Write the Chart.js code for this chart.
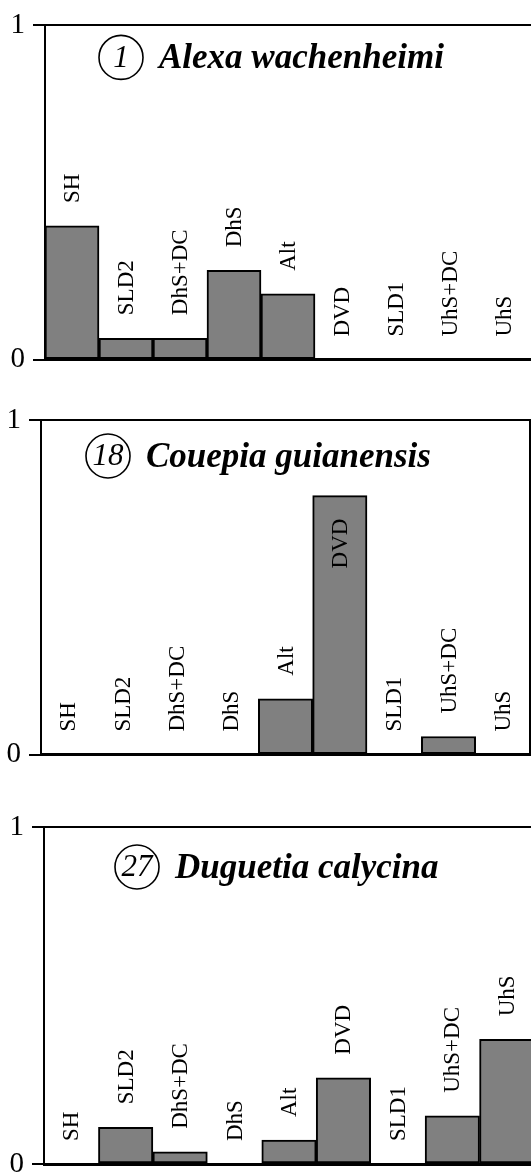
<!DOCTYPE html>
<html>
<head>
<meta charset="utf-8">
<script src="https://cdn.jsdelivr.net/npm/chart.js"></script>
<style>
  body { margin: 0; background: #fff; overflow: hidden; width: 531px; height: 1173px; position: relative; }
  canvas { position: absolute; left: 0; }
</style>
</head>
<body>
<canvas id="chart1" width="531" height="385" style="top:0px"></canvas>
<canvas id="chart2" width="531" height="390" style="top:390px"></canvas>
<canvas id="chart3" width="534" height="400" style="top:795px"></canvas>
<script>
// Data
const categories = ['SH', 'SLD2', 'DhS+DC', 'DhS', 'Alt', 'DVD', 'SLD1', 'UhS+DC', 'UhS'];
const yTicks = [0, 1];
const alexaValues = [0.40, 0.064, 0.064, 0.267, 0.197, 0, 0, 0, 0];
const couepiaValues = [0, 0, 0, 0, 0.167, 0.774, 0, 0.054, 0];
const duguetiaValues = [0, 0.109, 0.036, 0, 0.071, 0.256, 0, 0.143, 0.37];
const speciesNumbers = ['1', '18', '27'];
const speciesNames = ['Alexa wachenheimi', 'Couepia guianensis', 'Duguetia calycina'];

const serif = '"Liberation Serif", "Times New Roman", serif';

// Layout of each panel
const panels = [
  { id: 'chart1', values: alexaValues, pad: { top: 22, bottom: 23, right: 0 }, axisW: 45, rightFrame: false, cx: 121, cy: 32 },
  { id: 'chart2', values: couepiaValues, pad: { top: 30, bottom: 20, right: 1 }, axisW: 41, rightFrame: true, cx: 108, cy: 36 },
  { id: 'chart3', values: duguetiaValues, pad: { top: 32, bottom: 31, right: 0 }, axisW: 44, rightFrame: false, cx: 137, cy: 40 }
];

// Rotated category labels above (or inside, for tall bars) each bar
const barLabels = {
  id: 'barLabels',
  afterDatasetsDraw(chart) {
    const ctx = chart.ctx;
    const meta = chart.getDatasetMeta(0);
    const vals = chart.data.datasets[0].data;
    ctx.save();
    ctx.font = '23px ' + serif;
    ctx.fillStyle = '#000';
    ctx.textAlign = 'left';
    ctx.textBaseline = 'middle';
    meta.data.forEach((bar, i) => {
      const label = chart.data.labels[i];
      const w = ctx.measureText(label).width;
      const start = vals[i] > 0.6 ? bar.y + 23 + w : bar.y - 23;
      ctx.save();
      ctx.translate(bar.x + 1, start);
      ctx.rotate(-Math.PI / 2);
      ctx.fillText(label, 0, 0);
      ctx.restore();
    });
    ctx.restore();
  }
};

// Circled number and species name
const speciesTitle = {
  id: 'speciesTitle',
  afterDraw(chart, args, opts) {
    const ctx = chart.ctx;
    const top = chart.chartArea.top;
    const cx = opts.cx, cy = top + opts.cy;
    ctx.save();
    ctx.strokeStyle = '#000';
    ctx.lineWidth = 1.6;
    ctx.beginPath();
    ctx.arc(cx, cy, 22, 0, Math.PI * 2);
    ctx.stroke();
    ctx.fillStyle = '#000';
    ctx.font = 'italic 31px ' + serif;
    ctx.textAlign = 'center';
    ctx.textBaseline = 'middle';
    ctx.fillText(opts.num, cx, cy + 1);
    ctx.font = 'bold italic 35px ' + serif;
    ctx.textAlign = 'left';
    ctx.textBaseline = 'alphabetic';
    ctx.fillText(opts.name, cx + 38, cy + 11);
    ctx.restore();
  }
};

panels.forEach((p, k) => {
  const ctx = document.getElementById(p.id).getContext('2d');
  new Chart(ctx, {
    type: 'bar',
    data: {
      labels: categories,
      datasets: [{
        data: p.values,
        backgroundColor: '#808080',
        borderColor: '#000',
        borderWidth: 2,
        borderSkipped: false,
        barPercentage: 1,
        categoryPercentage: 1
      }]
    },
    options: {
      responsive: false,
      animation: false,
      devicePixelRatio: 1,
      layout: { padding: { left: 0, top: p.pad.top, bottom: p.pad.bottom, right: p.pad.right } },
      plugins: {
        legend: { display: false },
        tooltip: { enabled: false },
        speciesTitle: { cx: p.cx, cy: p.cy, num: speciesNumbers[k], name: speciesNames[k] }
      },
      scales: {
        x: {
          grid: { display: false },
          ticks: { display: false },
          border: { display: true, color: '#000', width: 3 },
          afterFit: s => { s.height = 0; }
        },
        y: {
          min: 0,
          max: 1,
          afterBuildTicks: s => { s.ticks = yTicks.map(v => ({ value: v })); },
          ticks: { color: '#000', font: { family: serif, size: 29 }, padding: 8 },
          grid: { color: '#000', lineWidth: 2, tickLength: 12, drawOnChartArea: true },
          border: { display: true, color: '#000', width: 2 },
          afterFit: s => { s.width = p.axisW; }
        },
        y2: {
          display: p.rightFrame,
          position: 'right',
          min: 0,
          max: 1,
          grid: { display: false },
          ticks: { display: false },
          border: { display: true, color: '#000', width: 2 },
          afterFit: s => { s.width = 0; }
        }
      }
    },
    plugins: [barLabels, speciesTitle]
  });
});
</script>
</body>
</html>
